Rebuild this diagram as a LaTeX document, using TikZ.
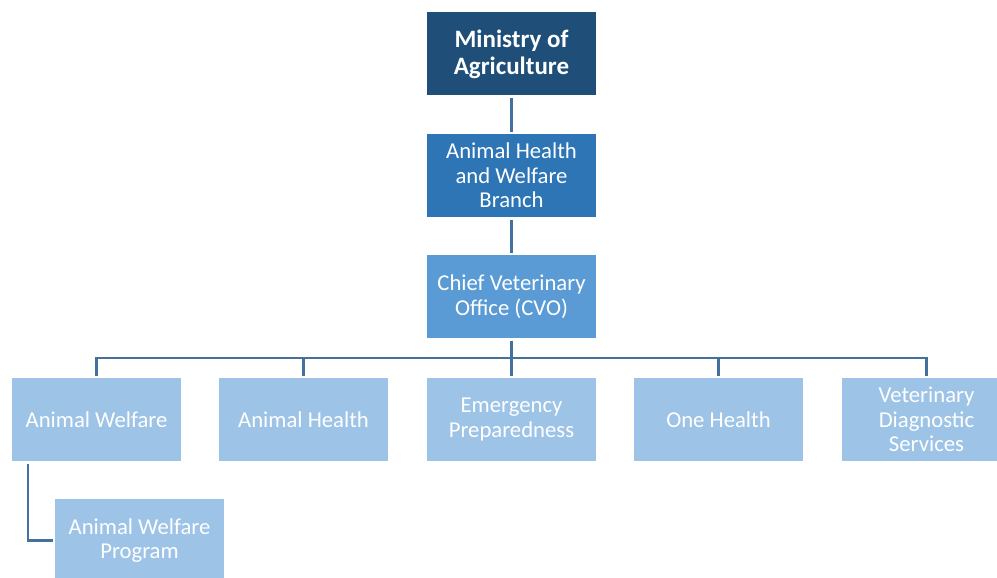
\documentclass[tikz,border=0pt]{standalone}
\usepackage{fontspec}
\setmainfont{Carlito}
\definecolor{ministryblue}{HTML}{1F4E79}
\definecolor{branchblue}{HTML}{2E75B6}
\definecolor{cvoblue}{HTML}{5B9BD5}
\definecolor{unitblue}{HTML}{9DC3E6}
\definecolor{lineblue}{HTML}{41719C}

\begin{document}
\begin{tikzpicture}[x=1pt, y=-1pt,
    unitbox/.style={shape=rectangle, minimum width=169pt, minimum height=83pt,
        inner sep=0pt, outer sep=2.5pt, text=white, align=center,
        font=\fontsize{22.7}{24.5}\selectfont},
    link/.style={draw=lineblue, line width=2.4pt}]
    \clip (0,0) rectangle (997,578);
    \node[unitbox, fill=ministryblue, font=\fontsize{25}{27}\selectfont\bfseries] at (511.5,54) (MoA) {Ministry of\\Agriculture};
    \node[unitbox, fill=branchblue] at (511.5,175.5) (AHWB) {Animal Health\\and Welfare\\Branch};
    \node[unitbox, fill=cvoblue] at (511.5,296.5) (CVO) {Chief Veterinary\\Office (CVO)};
    \node[unitbox, fill=unitblue] at (96.5,419.5) (AW) {Animal Welfare};
    \node[unitbox, fill=unitblue] at (303.5,419.5) (AH) {Animal Health};
    \node[unitbox, fill=unitblue] at (511.5,419.5) (EP) {Emergency\\Preparedness};
    \node[unitbox, fill=unitblue] at (718.5,419.5) (OH) {One Health};
    \node[unitbox, fill=unitblue] at (926.5,419.5) (VDS) {Veterinary\\Diagnostic\\Services};
    \node[unitbox, fill=unitblue] at (139.5,540.5) (AWP) {Animal Welfare\\Program};
    \coordinate (bus) at (511.5,358);
    \draw[link] (MoA) -- (AHWB);
    \draw[link] (AHWB) -- (CVO);
    \draw[link] (CVO) -- (bus);
    \draw[link] (bus) -| (AW);
    \draw[link] (bus) -| (AH);
    \draw[link] (bus) -- (EP);
    \draw[link] (bus) -| (OH);
    \draw[link] (bus) -| (VDS);
    \draw[link] ([xshift=18.5pt]AW.south west) |- (AWP);
\end{tikzpicture}
\end{document}
